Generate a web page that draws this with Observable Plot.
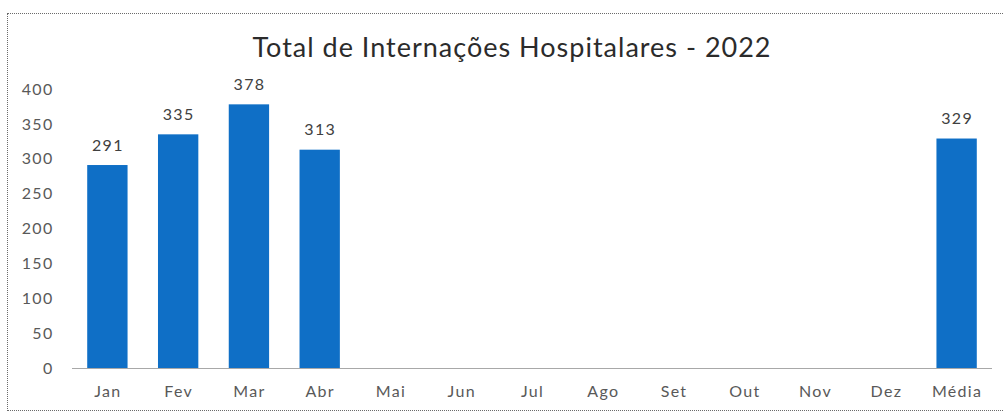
<!DOCTYPE html>
<html>
<head>
<meta charset="utf-8">
<script src="https://cdn.jsdelivr.net/npm/d3@7"></script>
<script src="https://cdn.jsdelivr.net/npm/@observablehq/plot@0.6"></script>
<style>
  html, body { margin: 0; padding: 0; background: #fff; width: 1006px; height: 412px; overflow: hidden; }
  #frame { position: absolute; left: 7px; top: 13px; width: 996px; height: 398px; border: 1px dotted #6b6b6b; border-right: none; box-sizing: border-box; }
  #title { position: absolute; left: 0; width: 1024px; top: 30px; text-align: center; font-family: Lato, sans-serif; font-size: 27px; letter-spacing: 1px; color: #2b2b2b; }
  #chart { position: absolute; left: 0; top: 0; }
</style>
</head>
<body>
<div id="frame"></div>
<div id="title">Total de Internações Hospitalares - 2022</div>
<div id="chart"></div>
<script>
const categories = ["Jan","Fev","Mar","Abr","Mai","Jun","Jul","Ago","Set","Out","Nov","Dez","Média"];
const values = [291, 335, 378, 313, null, null, null, null, null, null, null, null, 329];
const yTicks = [0, 50, 100, 150, 200, 250, 300, 350, 400];

const data = categories.map((c, i) => ({cat: c, v: values[i]}));
const bars = data.filter(d => d.v != null);

const chart = Plot.plot({
  width: 1006,
  height: 412,
  marginTop: 89,
  marginBottom: 44,
  marginLeft: 72,
  marginRight: 14,
  style: {fontFamily: "Lato, sans-serif", fontSize: "16px", color: "#595959", background: "transparent", letterSpacing: "1.3px"},
  x: {domain: categories, paddingInner: 0.43, paddingOuter: 0.215, round: false, label: null},
  y: {domain: [0, 400], label: null},
  marks: [
    Plot.barY(bars, {x: "cat", y: "v", fill: "#0F6FC6"}),
    Plot.ruleY([0], {stroke: "#a8a8a8", strokeWidth: 1}),
    Plot.text(bars, {x: "cat", y: "v", text: d => String(d.v), dy: -20, fill: "#404040", fontSize: 16}),
    Plot.axisX({tickSize: 0, tickPadding: 17, fontSize: 16, fill: "#595959"}),
    Plot.axisY({ticks: yTicks, tickSize: 0, tickPadding: 19, fontSize: 16, fill: "#595959", tickFormat: d => String(d)})
  ]
});
document.getElementById("chart").appendChild(chart);
</script>
</body>
</html>
